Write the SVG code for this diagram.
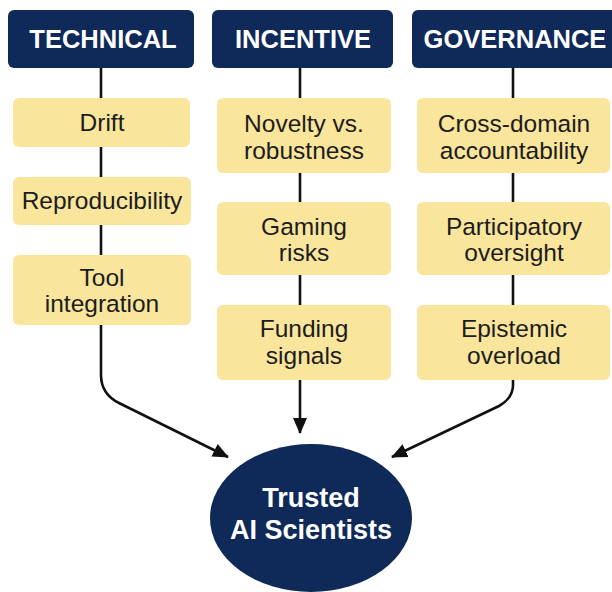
<svg xmlns="http://www.w3.org/2000/svg" width="612" height="592" viewBox="0 0 612 592">
  <style>
    .head rect { fill: #0f2a58; }
    .head text { fill: #ffffff; font-family: "Liberation Sans", Arial, sans-serif; font-weight: bold; font-size: 25.5px; text-anchor: middle; }
    .item rect { fill: #f9e59c; }
    .item text { fill: #1c1c1c; font-family: "Liberation Sans", Arial, sans-serif; font-size: 24.5px; text-anchor: middle; }
    .link { fill: none; stroke: #111111; stroke-width: 2.6; }
    .goal ellipse { fill: #0f2a58; }
    .goal text { fill: #ffffff; font-family: "Liberation Sans", Arial, sans-serif; font-weight: bold; font-size: 27px; text-anchor: middle; }
  </style>
  <defs>
    <marker id="arrow" markerUnits="userSpaceOnUse" markerWidth="16" markerHeight="14" refX="15" refY="7" orient="auto">
      <path d="M0,0 L16,7 L0,14 Z" fill="#111111"/>
    </marker>
  </defs>
  <rect width="612" height="592" fill="#ffffff"/>

  <!-- connectors -->
  <g id="connectors">
    <line class="link" x1="101" y1="68" x2="101" y2="98"/>
    <line class="link" x1="101" y1="147" x2="101" y2="177"/>
    <line class="link" x1="101" y1="225" x2="101" y2="255"/>
    <line class="link" x1="300" y1="68" x2="300" y2="98"/>
    <line class="link" x1="300" y1="173" x2="300" y2="202"/>
    <line class="link" x1="300" y1="275" x2="300" y2="305"/>
    <line class="link" x1="513" y1="68" x2="513" y2="98"/>
    <line class="link" x1="513" y1="173" x2="513" y2="202"/>
    <line class="link" x1="513" y1="275" x2="513" y2="305"/>
    <path class="link" d="M101,325 L101,375 Q101,394 119,403 L228,457" marker-end="url(#arrow)"/>
    <path class="link" d="M300,380 L300,433" marker-end="url(#arrow)"/>
    <path class="link" d="M513,380 L513,385 Q513,398 499,406 L392,457" marker-end="url(#arrow)"/>
  </g>

  <!-- category headers -->
  <g id="technical" class="head">
    <rect x="8" y="10" width="186" height="58" rx="6"/>
    <text x="103" y="48">TECHNICAL</text>
  </g>
  <g id="incentive" class="head">
    <rect x="212" y="10" width="181" height="58" rx="6"/>
    <text x="303" y="48">INCENTIVE</text>
  </g>
  <g id="governance" class="head">
    <rect x="412" y="10" width="210" height="58" rx="6"/>
    <text x="515" y="48">GOVERNANCE</text>
  </g>

  <!-- technical items -->
  <g id="drift" class="item">
    <rect x="13" y="98" width="177" height="49" rx="6"/>
    <text x="102" y="131">Drift</text>
  </g>
  <g id="reproducibility" class="item">
    <rect x="13" y="177" width="178" height="48" rx="6"/>
    <text x="102" y="209">Reproducibility</text>
  </g>
  <g id="tool-integration" class="item">
    <rect x="13" y="255" width="178" height="70" rx="6"/>
    <text x="102" y="286">Tool</text>
    <text x="102" y="312">integration</text>
  </g>

  <!-- incentive items -->
  <g id="novelty" class="item">
    <rect x="217" y="98" width="174" height="75" rx="6"/>
    <text x="304" y="132">Novelty vs.</text>
    <text x="304" y="159">robustness</text>
  </g>
  <g id="gaming" class="item">
    <rect x="217" y="202" width="174" height="73" rx="6"/>
    <text x="304" y="235">Gaming</text>
    <text x="304" y="261">risks</text>
  </g>
  <g id="funding" class="item">
    <rect x="217" y="305" width="174" height="75" rx="6"/>
    <text x="304" y="337">Funding</text>
    <text x="304" y="364">signals</text>
  </g>

  <!-- governance items -->
  <g id="cross-domain" class="item">
    <rect x="417" y="98" width="193" height="75" rx="6"/>
    <text x="514" y="132">Cross-domain</text>
    <text x="514" y="159">accountability</text>
  </g>
  <g id="participatory" class="item">
    <rect x="417" y="202" width="193" height="73" rx="6"/>
    <text x="514" y="235">Participatory</text>
    <text x="514" y="261">oversight</text>
  </g>
  <g id="epistemic" class="item">
    <rect x="417" y="305" width="193" height="75" rx="6"/>
    <text x="514" y="337">Epistemic</text>
    <text x="514" y="364">overload</text>
  </g>

  <!-- outcome -->
  <g id="trusted-ai-scientists" class="goal">
    <ellipse cx="311" cy="518" rx="101" ry="74"/>
    <text x="311" y="507">Trusted</text>
    <text x="311" y="539">AI Scientists</text>
  </g>
</svg>
